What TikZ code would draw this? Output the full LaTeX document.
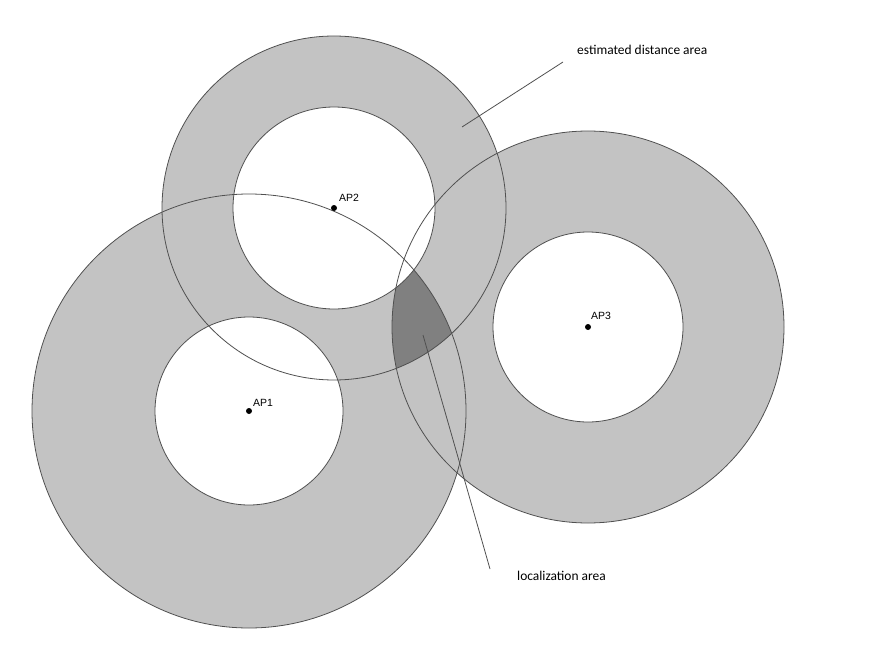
\documentclass[tikz,border=0pt]{standalone}
\usepackage{fontspec}
\setmainfont{Carlito}
\newfontfamily\apfont{Liberation Sans}
\definecolor{anillo}{HTML}{C3C3C3}
\definecolor{zona}{HTML}{808080}
\definecolor{borde}{HTML}{505050}
\begin{document}
\begin{tikzpicture}[x=1bp,y=-1bp,
    etiqueta/.style={font=\fontsize{13.5}{16}\selectfont,inner sep=0pt,anchor=base west},
    apetiq/.style={font=\apfont\fontsize{10.5}{12}\selectfont,inner sep=0pt,anchor=base west},
    punto/.style={circle,fill=black,inner sep=0pt,minimum size=6bp},
    linea/.style={draw=borde,line width=0.8bp}]
        \useasboundingbox (0,0) rectangle (870,657);

        % Centros de los puntos de acceso
        \coordinate (c1) at (249,411);
        \coordinate (c2) at (334,208);
        \coordinate (c3) at (588,327);

        % Anillos de distancia estimada
        \fill[anillo] (c1) circle (217) (c2) circle (172) (c3) circle (196);

        % Zona de localizacion
        \begin{scope}
            \clip (c1) circle (217);
            \clip (c2) circle (172);
            \fill[zona] (c3) circle (196);
        \end{scope}
        \fill[white] (c1) circle (94) (c2) circle (101) (c3) circle (95);

        % Bordes
        \foreach \c/\R/\r in {c1/217/94, c2/172/101, c3/196/95}
            \draw[linea] (\c) circle (\R) (\c) circle (\r);

        % Puntos de acceso
        \node[punto] (ap1) at (c1) {};
        \node[punto] (ap2) at (c2) {};
        \node[punto] (ap3) at (c3) {};
        \node[apetiq] (lap1) at (253,406) {AP1};
        \node[apetiq] (lap2) at (339,201) {AP2};
        \node[apetiq] (lap3) at (591,319) {AP3};

        % Etiquetas
        \node[etiqueta] (lest) at (577,55) {estimated distance area};
        \node[etiqueta] (lloc) at (517,580) {localization area};
        \coordinate (est1) at (563,62);
        \coordinate (est2) at (462,127);
        \coordinate (loc1) at (490,569);
        \coordinate (loc2) at (423,335);
        \draw[linea] (est1) -- (est2);
        \draw[linea] (loc1) -- (loc2);
\end{tikzpicture}
\end{document}
